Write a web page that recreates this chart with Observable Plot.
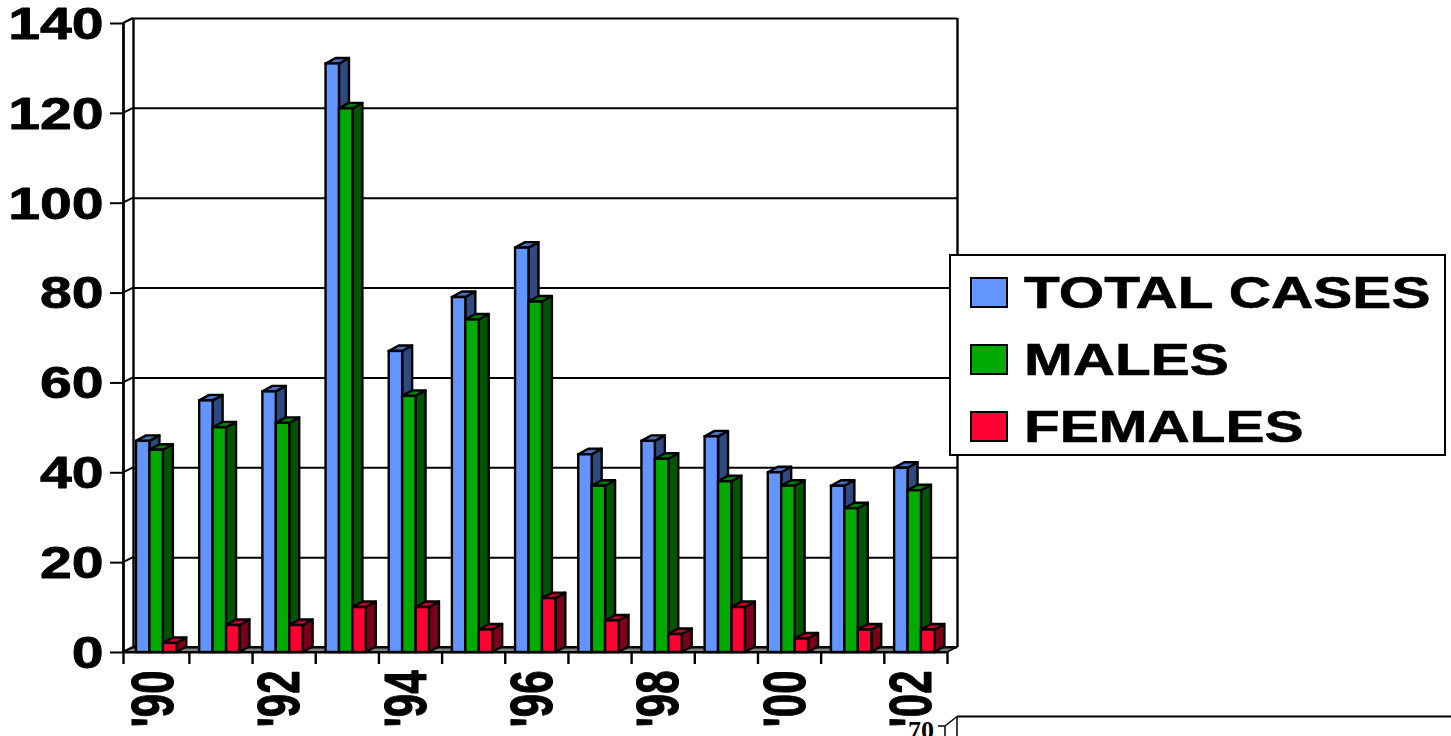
<!DOCTYPE html>
<html><head><meta charset="utf-8">
<script src="https://cdn.jsdelivr.net/npm/d3@7"></script>
<script src="https://cdn.jsdelivr.net/npm/@observablehq/plot@0.6"></script>
<style>
html,body{margin:0;padding:0;background:#fff;overflow:hidden;width:1451px;height:736px}
#wrap{position:relative;width:1451px;height:736px;overflow:hidden;font-family:"Liberation Sans",Arial,sans-serif;font-weight:700}
#wrap>svg{position:absolute;left:0;top:0}
#legend{position:absolute;left:949px;top:254px;width:497px;height:202px;box-sizing:border-box;border:2px solid #000;background:#fff}
.row{position:absolute;left:19px;height:40px}
.sw{position:absolute;left:0;top:3px;width:38px;height:31px;box-sizing:border-box;border:2.5px solid #000}
.lb{position:absolute;left:54px;top:-3px;font-size:44px;line-height:44px;white-space:nowrap;transform-origin:0 0;transform:scaleX(1.33);color:#000;-webkit-text-stroke:0.6px #000}
</style></head>
<body><div id="wrap"></div>
<script>
const years = ["'90","'91","'92","'93","'94","'95","'96","'97","'98","'99","'00","'01","'02"];
const shownYears = ["'90","'92","'94","'96","'98","'00","'02"];
const totalCases = [47,56,58,131,67,79,90,44,47,48,40,37,41];
const males = [45,50,51,121,57,74,78,37,43,38,37,32,36];
const females = [2,6,6,10,10,5,12,7,4,10,3,5,5];
const seriesNames = ["TOTAL CASES","MALES","FEMALES"];
const frontColors = ["#6495ff","#00aa00","#ff0033"];
const sideColors = ["#2f4a80","#005500","#7a0019"];
const topColors = ["#4a70c0","#008000","#c00026"];
const yTicks = [0,20,40,60,80,100,120,140];

const seriesValues = [totalCases, males, females];
const x0 = -0.043, barW = 0.2125, barStart = 0.163, depthX = 10, depthY = 5.5, wallX = 10, wallY = 5;
const bars = seriesValues.map((vals, s) => vals.map((v, i) => ({
  s, v, x1: i + barStart + s * barW, x2: i + barStart + (s + 1) * barW
})));

const NS = "http://www.w3.org/2000/svg";
function poly(g, pts, fill, stroke = "#000", sw = 2.4) {
  const p = document.createElementNS(NS, "polygon");
  p.setAttribute("points", pts.map(d => d.join(",")).join(" "));
  p.setAttribute("fill", fill);
  p.setAttribute("stroke", stroke);
  p.setAttribute("stroke-width", sw);
  p.setAttribute("stroke-linejoin", "round");
  g.appendChild(p);
}
const faces = s => (index, {x, y}) => {
  const g = document.createElementNS(NS, "g");
  for (const b of bars[s]) {
    const l = x(b.x1), r = x(b.x2), t = y(b.v), o = y(0);
    poly(g, [[r, o], [r + depthX, o - depthY], [r + depthX, t - depthY], [r, t]], sideColors[s]);
    poly(g, [[l, t], [l + depthX, t - depthY], [r + depthX, t - depthY], [r, t]], topColors[s]);
  }
  return g;
};
const shell = (index, {x, y}) => {
  const g = document.createElementNS(NS, "g");
  poly(g, [[x(x0), y(0)], [x(x0) + wallX, y(0) - wallY], [x(13) + wallX, y(0) - wallY], [x(13), y(0)]], "#808080", "#000", 1.8);
  for (const t of yTicks) {
    const l = document.createElementNS(NS, "line");
    l.setAttribute("x1", x(x0)); l.setAttribute("y1", y(t));
    l.setAttribute("x2", x(x0) + wallX); l.setAttribute("y2", y(t) - wallY);
    l.setAttribute("stroke", "#000"); l.setAttribute("stroke-width", 2);
    g.appendChild(l);
  }
  return g;
};
const shownPos = years.map((d, i) => ({d, i})).filter(e => shownYears.includes(e.d));

const chart = Plot.plot({
  width: 1451, height: 736,
  marginLeft: 123, marginRight: 504, marginTop: 23, marginBottom: 84,
  style: {background: "transparent", overflow: "hidden"},
  x: {type: "linear", domain: [x0, 13], axis: null},
  y: {type: "linear", domain: [0, 140], axis: null},
  marks: [
    shell,
    Plot.ruleY(yTicks, {dx: wallX, dy: -wallY, stroke: "#000", strokeWidth: 2}),
    Plot.ruleX([x0, 13], {dx: wallX, dy: -wallY, stroke: "#000", strokeWidth: 2.4}),
    Plot.ruleX([x0], {stroke: "#000", strokeWidth: 2.8}),
    Plot.ruleY([0], {stroke: "#000", strokeWidth: 2}),
    Plot.axisY(yTicks, {anchor: "left", tickSize: 13, tickFormat: () => "", label: null, stroke: "#000", strokeWidth: 2}),
    Plot.axisX([x0, ...d3.range(1, 14)], {anchor: "bottom", tickSize: 12, tickFormat: () => "", label: null, stroke: "#000", strokeWidth: 2.4}),
    ...seriesNames.flatMap((n, s) => [
      faces(s),
      Plot.rect(bars[s], {x1: "x1", x2: "x2", y1: 0, y2: "v", fill: frontColors[s], stroke: "#000", strokeWidth: 2.4, inset: 0})
    ]),
    Plot.text(yTicks, {x: x0, y: d => d, text: d => String(d), dx: -20, dy: 1, textAnchor: "end", fontSize: 45, fontWeight: 700, fontFamily: "Liberation Sans", fill: "#000", stroke: "#000", strokeWidth: 0.8, className: "ylab"}),
    Plot.text(shownPos, {x: d => d.i + 0.5, y: 0, text: "d", rotate: -90, textAnchor: "end", dy: 18, dx: -4, fontSize: 42, fontWeight: 700, fontFamily: "Liberation Sans", fill: "#000", stroke: "#000", strokeWidth: 0.8, className: "xlab"})
  ]
});
d3.select(chart).selectAll(".ylab text").each(function () {
  this.setAttribute("transform", (this.getAttribute("transform") || "") + " scale(1.27,1)");
});
d3.select(chart).selectAll(".xlab text").each(function () {
  this.setAttribute("transform", (this.getAttribute("transform") || "") + " scale(1,1.42)");
});
const wrap = document.getElementById("wrap");
wrap.appendChild(chart);

// Top edge of the next chart on the slide, cut off by the picture's bottom border
const frag = document.createElementNS(NS, "svg");
frag.setAttribute("width", 1451); frag.setAttribute("height", 736);
frag.innerHTML = `<g stroke="#000" fill="none">
<path d="M957 716.5H1451" stroke-width="2"/>
<path d="M957 716.5V736" stroke-width="1.5"/>
<path d="M945 726L957 716.5" stroke-width="1.5"/>
<path d="M938 726H945V736" stroke-width="1.5"/></g>
<text x="934" y="739" text-anchor="end" font-family="Liberation Serif" font-weight="700" font-size="26" fill="#000">70</text>`;
wrap.appendChild(frag);

const legend = document.createElement("div");
legend.id = "legend";
seriesNames.forEach((n, s) => {
  const row = document.createElement("div");
  row.className = "row";
  row.style.top = (18 + s * 67) + "px";
  row.innerHTML = `<div class="sw" style="background:${frontColors[s]}"></div><div class="lb">${n}</div>`;
  legend.appendChild(row);
});
wrap.appendChild(legend);
</script></body></html>
